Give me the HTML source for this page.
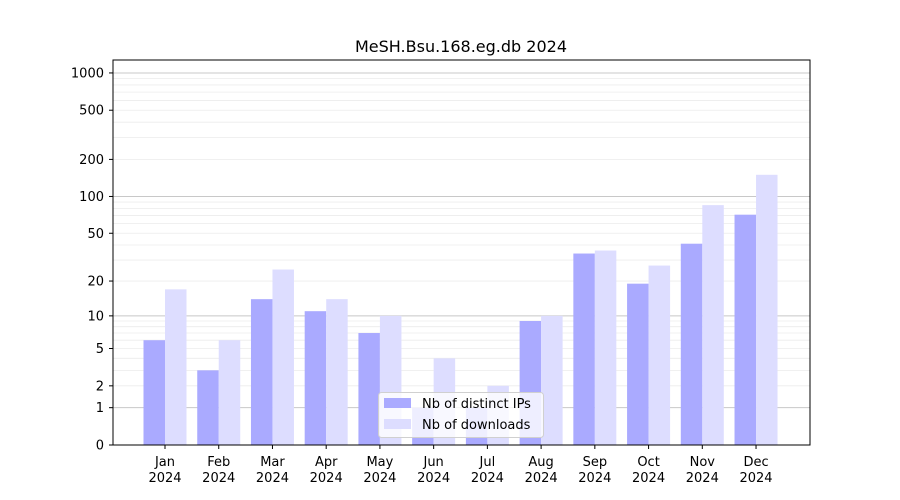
<!DOCTYPE html><html><head><meta charset="utf-8"><style>body{margin:0;background:#fff}svg{display:block;font-family:"DejaVu Sans","Liberation Sans",sans-serif}</style></head><body>
<svg id="s" width="900" height="500" xmlns="http://www.w3.org/2000/svg"></svg>
<script>
const Y=v=>445-124*Math.log10(1+v);
let h='<rect width="900" height="500" fill="#fff"/>';
for(let d=1;d<=1000;d*=10){for(let k=1;k<10;k++){const v=d*k;if(v>1300)break;const y=Y(v);if(y<60)continue;h+=`<line x1="113" x2="810" y1="${y}" y2="${y}" stroke="${k==1?'#c8c8c8':'#ececec'}" stroke-width="${k==1?1:0.8}"/>`;}}
const ip=[6,3,14,11,7,1,1,9,34,19,41,71],dl=[17,6,25,14,10,4,2,10,36,27,85,150];
const m=['Jan','Feb','Mar','Apr','May','Jun','Jul','Aug','Sep','Oct','Nov','Dec'];
for(let i=0;i<12;i++){const c=165+i*53.73;
h+=`<rect x="${c-21.5}" y="${Y(ip[i])}" width="21.5" height="${445-Y(ip[i])}" fill="#aaaaff"/>`;
h+=`<rect x="${c}" y="${Y(dl[i])}" width="21.5" height="${445-Y(dl[i])}" fill="#ddddff"/>`;
h+=`<line x1="${c}" x2="${c}" y1="445" y2="449" stroke="#000"/><text x="${c}" y="466" font-size="13" text-anchor="middle">${m[i]}</text><text x="${c}" y="482" font-size="13" text-anchor="middle">2024</text>`;}
[0,1,2,5,10,20,50,100,200,500,1000].forEach(v=>{const y=Y(v);h+=`<line x1="109" x2="113" y1="${y}" y2="${y}" stroke="#000"/><text x="104" y="${y+4.5}" font-size="13" text-anchor="end">${v}</text>`;});
h+=`<rect x="113" y="60" width="697" height="385" fill="none" stroke="#000"/>`;
h+=`<text x="461" y="52" font-size="16" text-anchor="middle">MeSH.Bsu.168.eg.db 2024</text>`;
h+=`<rect x="378.5" y="392.5" width="165" height="45" rx="3" fill="#fff" fill-opacity="0.8" stroke="#d0d0d0"/>`;
h+=`<rect x="384" y="398" width="27" height="10" fill="#aaaaff"/><text x="422" y="408" font-size="13">Nb of distinct IPs</text>`;
h+=`<rect x="384" y="419" width="27" height="10" fill="#ddddff"/><text x="422" y="429" font-size="13">Nb of downloads</text>`;
document.getElementById('s').innerHTML=h;
</script></body></html>
